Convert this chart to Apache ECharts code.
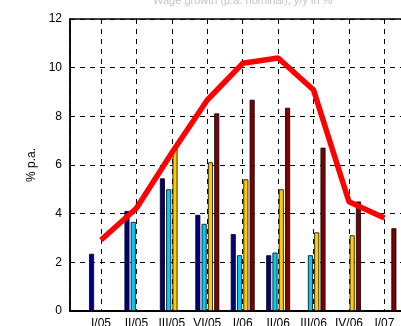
<!DOCTYPE html>
<html><head><meta charset="utf-8">
<script src="https://cdn.jsdelivr.net/npm/echarts@6/dist/echarts.min.js"></script>
<style>html,body{margin:0;padding:0;background:#fff}#c{width:401px;height:326px}</style>
</head><body><div id="c"></div>
<script>
var categories = ['I/05','II/05','III/05','VI/05','I/06','II/06','III/06','IV/06','I/07'];
var yTicks = [0,2,4,6,8,10,12];
var lineValues = [2.92, 4.22, 6.5, 8.67, 10.18, 10.4, 9.08, 4.49, 3.82];
var navyValues = [2.35, 4.11, 5.45, 3.95, 3.16, 2.29, null, null, null];
var cyanValues = [null, 3.66, 5.0, 3.58, 2.29, 2.4, 2.29, null, null];
var yellowValues = [null, null, 6.68, 6.11, 5.41, 5.0, 3.23, 3.11, null];
var redValues = [null, null, null, 8.12, 8.68, 8.35, 6.71, 4.5, 3.4];

function pairs(arr){ return arr.map(function(v,i){ return [i+1, v==null ? '-' : v]; }); }
function barSeries(name, arr, color){
  return { name:name, type:'bar', data:pairs(arr), barWidth:5, barGap:'26%',
    itemStyle:{color:color, borderColor:'#000', borderWidth:0.8}, z:2 };
}
var chart = echarts.init(document.getElementById('c'), null, {renderer:'canvas'});
chart.setOption({
  animation:false,
  title:{ text:'Wage growth (p.a. nominal), y/y in %', left:148, top:-10,
    textStyle:{fontFamily:'Liberation Sans', fontSize:11, fontWeight:'normal', color:'#c4c4c4'} },
  grid:{ left:70, right:-10, top:19, bottom:15, outerBoundsMode:'none', containLabel:false,
    show:true, borderColor:'#000', borderWidth:1.5, backgroundColor:'transparent' },
  xAxis:{ type:'value', min:0.125, max:9.75, minInterval:1, maxInterval:1, splitNumber:9,
    axisLine:{show:true, onZero:false, lineStyle:{color:'#000', width:2}},
    axisTick:{show:false},
    axisLabel:{ margin:7, color:'#000', fontFamily:'Liberation Sans', fontSize:12, showMinLabel:false, showMaxLabel:false,
      formatter:function(v){ return (Math.abs(v-Math.round(v))<1e-6 && categories[Math.round(v)-1]) ? categories[Math.round(v)-1] : ''; } },
    splitLine:{ show:true, lineStyle:{color:'#000', type:[5,5], width:1} } },
  yAxis:{ type:'value', min:yTicks[0], max:yTicks[yTicks.length-1], interval:2,
    name:'% p.a.', nameLocation:'middle', nameGap:23, nameRotate:90,
    nameTextStyle:{color:'#000', fontFamily:'Liberation Sans', fontSize:12},
    axisLine:{show:true, lineStyle:{color:'#000', width:1.5}},
    axisTick:{show:true, inside:true, length:4, lineStyle:{color:'#000'}},
    axisLabel:{ margin:8, color:'#000', fontFamily:'Liberation Sans', fontSize:12 },
    splitLine:{ show:true, lineStyle:{color:'#000', type:[5,5], width:1} } },
  series:[
    barSeries('navy', navyValues, '#000080'),
    barSeries('cyan', cyanValues, '#00CCFF'),
    barSeries('yellow', yellowValues, '#FFCC00'),
    barSeries('red', redValues, '#800000'),
    { name:'line', type:'line', data:pairs(lineValues), showSymbol:false, symbol:'none',
      lineStyle:{color:'#FF0000', width:5.5}, z:5 }
  ]
});
</script></body></html>
